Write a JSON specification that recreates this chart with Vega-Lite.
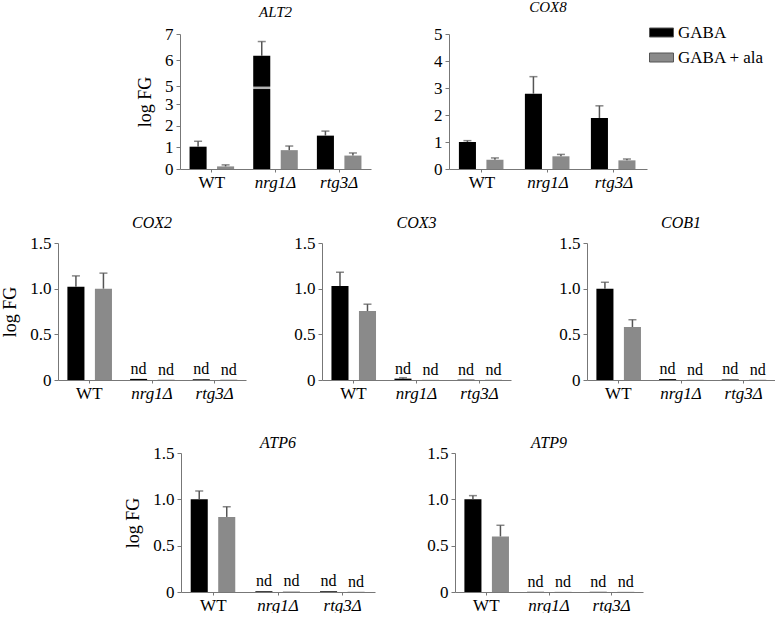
{
  "$schema": "https://vega.github.io/schema/vega-lite/v6.json",
  "padding": {"left": 1, "top": 0, "right": 0, "bottom": 0},
  "datasets": {
    "d": [
      {"gene": "ALT2", "strain": "WT", "condition": "GABA", "value": 1.03, "err": 1.28, "label": ""},
      {"gene": "ALT2", "strain": "WT", "condition": "GABA + ala", "value": 0.12, "err": 0.19, "label": ""},
      {"gene": "ALT2", "strain": "nrg1Δ", "condition": "GABA", "value": 6.16, "err": 6.71, "label": ""},
      {"gene": "ALT2", "strain": "nrg1Δ", "condition": "GABA + ala", "value": 0.87, "err": 1.06, "label": ""},
      {"gene": "ALT2", "strain": "rtg3Δ", "condition": "GABA", "value": 1.54, "err": 1.75, "label": ""},
      {"gene": "ALT2", "strain": "rtg3Δ", "condition": "GABA + ala", "value": 0.62, "err": 0.74, "label": ""},
      {"gene": "COX8", "strain": "WT", "condition": "GABA", "value": 1.0, "err": 1.05, "label": ""},
      {"gene": "COX8", "strain": "WT", "condition": "GABA + ala", "value": 0.34, "err": 0.41, "label": ""},
      {"gene": "COX8", "strain": "nrg1Δ", "condition": "GABA", "value": 2.79, "err": 3.42, "label": ""},
      {"gene": "COX8", "strain": "nrg1Δ", "condition": "GABA + ala", "value": 0.47, "err": 0.54, "label": ""},
      {"gene": "COX8", "strain": "rtg3Δ", "condition": "GABA", "value": 1.89, "err": 2.34, "label": ""},
      {"gene": "COX8", "strain": "rtg3Δ", "condition": "GABA + ala", "value": 0.32, "err": 0.37, "label": ""},
      {"gene": "COX2", "strain": "WT", "condition": "GABA", "value": 1.02, "err": 1.14, "label": ""},
      {"gene": "COX2", "strain": "WT", "condition": "GABA + ala", "value": 1.0, "err": 1.17, "label": ""},
      {"gene": "COX2", "strain": "nrg1Δ", "condition": "GABA", "value": 0.012, "err": null, "label": "nd"},
      {"gene": "COX2", "strain": "nrg1Δ", "condition": "GABA + ala", "value": 0.004, "err": null, "label": "nd"},
      {"gene": "COX2", "strain": "rtg3Δ", "condition": "GABA", "value": 0.008, "err": null, "label": "nd"},
      {"gene": "COX2", "strain": "rtg3Δ", "condition": "GABA + ala", "value": 0.004, "err": null, "label": "nd"},
      {"gene": "COX3", "strain": "WT", "condition": "GABA", "value": 1.03, "err": 1.18, "label": ""},
      {"gene": "COX3", "strain": "WT", "condition": "GABA + ala", "value": 0.755, "err": 0.83, "label": ""},
      {"gene": "COX3", "strain": "nrg1Δ", "condition": "GABA", "value": 0.015, "err": 0.025, "label": "nd"},
      {"gene": "COX3", "strain": "nrg1Δ", "condition": "GABA + ala", "value": 0.002, "err": null, "label": "nd"},
      {"gene": "COX3", "strain": "rtg3Δ", "condition": "GABA", "value": 0.004, "err": null, "label": "nd"},
      {"gene": "COX3", "strain": "rtg3Δ", "condition": "GABA + ala", "value": 0.003, "err": null, "label": "nd"},
      {"gene": "COB1", "strain": "WT", "condition": "GABA", "value": 1.0, "err": 1.07, "label": ""},
      {"gene": "COB1", "strain": "WT", "condition": "GABA + ala", "value": 0.58, "err": 0.66, "label": ""},
      {"gene": "COB1", "strain": "nrg1Δ", "condition": "GABA", "value": 0.01, "err": null, "label": "nd"},
      {"gene": "COB1", "strain": "nrg1Δ", "condition": "GABA + ala", "value": 0.003, "err": null, "label": "nd"},
      {"gene": "COB1", "strain": "rtg3Δ", "condition": "GABA", "value": 0.006, "err": null, "label": "nd"},
      {"gene": "COB1", "strain": "rtg3Δ", "condition": "GABA + ala", "value": 0.003, "err": null, "label": "nd"},
      {"gene": "ATP6", "strain": "WT", "condition": "GABA", "value": 1.0, "err": 1.09, "label": ""},
      {"gene": "ATP6", "strain": "WT", "condition": "GABA + ala", "value": 0.81, "err": 0.92, "label": ""},
      {"gene": "ATP6", "strain": "nrg1Δ", "condition": "GABA", "value": 0.008, "err": null, "label": "nd"},
      {"gene": "ATP6", "strain": "nrg1Δ", "condition": "GABA + ala", "value": 0.006, "err": null, "label": "nd"},
      {"gene": "ATP6", "strain": "rtg3Δ", "condition": "GABA", "value": 0.008, "err": null, "label": "nd"},
      {"gene": "ATP6", "strain": "rtg3Δ", "condition": "GABA + ala", "value": 0.003, "err": null, "label": "nd"},
      {"gene": "ATP9", "strain": "WT", "condition": "GABA", "value": 1.0, "err": 1.04, "label": ""},
      {"gene": "ATP9", "strain": "WT", "condition": "GABA + ala", "value": 0.6, "err": 0.72, "label": ""},
      {"gene": "ATP9", "strain": "nrg1Δ", "condition": "GABA", "value": 0.002, "err": null, "label": "nd"},
      {"gene": "ATP9", "strain": "nrg1Δ", "condition": "GABA + ala", "value": 0.002, "err": null, "label": "nd"},
      {"gene": "ATP9", "strain": "rtg3Δ", "condition": "GABA", "value": 0.002, "err": null, "label": "nd"},
      {"gene": "ATP9", "strain": "rtg3Δ", "condition": "GABA + ala", "value": 0.002, "err": null, "label": "nd"}
    ]
  },
  "resolve": {"scale": {"color": "independent"}, "legend": {"color": "independent"}},
  "spacing": 25,
  "vconcat": [
    {
      "spacing": 62,
      "resolve": {"scale": {"color": "independent"}, "legend": {"color": "independent"}},
      "hconcat": [
        {"width": 16, "height": 1, "data": {"values": []}, "mark": "point", "encoding": {}},
        {
          "title": {"text": "ALT2", "offset": 5, "fontSize": 15, "font": "Liberation Serif", "fontStyle": "italic", "fontWeight": "normal", "frame": "group"},
          "width": 191, "height": 135,
          "data": {"name": "d"},
          "transform": [{"filter": "datum.gene == 'ALT2'"}],
          "encoding": {
            "x": {"field": "strain", "type": "nominal", "sort": ["WT", "nrg1Δ", "rtg3Δ"], "scale": {"paddingInner": 0.3, "paddingOuter": 0.15},
                  "axis": {"title": null, "labelAngle": 0, "tickSize": 3, "labelPadding": 2, "labelFontStyle": {"condition": {"test": "datum.value == 'WT'", "value": "normal"}, "value": "italic"}}},
            "xOffset": {"field": "condition", "type": "nominal", "sort": ["GABA", "GABA + ala"], "scale": {"paddingInner": 0.38}},
            "y": {"field": "value", "type": "quantitative", "scale": {"domain": [0, 3, 5, 7], "range": [135, 70, 52, 0], "nice": false, "zero": false},
                  "axis": {"title": "log FG", "values": [0, 1, 2, 3, 5, 6, 7], "tickSize": 4, "titlePadding": 10, "labelOverlap": false, "labelPadding": 3}}
          },
          "layer": [
            {
              "mark": {"type": "bar"},
              "encoding": {
                "color": {"field": "condition", "type": "nominal", "scale": {"domain": ["GABA", "GABA + ala"], "range": ["#000000", "#8a8a8a"]}, "legend": null}
              }
            },
            {
              "transform": [{"filter": "datum.err != null"}],
              "mark": {"type": "rule", "color": "#555555", "strokeWidth": 1.5},
              "encoding": {"y2": {"field": "err"}}
            },
            {
              "transform": [{"filter": "datum.err != null"}],
              "mark": {"type": "tick", "orient": "horizontal", "size": 8, "thickness": 1.5, "color": "#555555"},
              "encoding": {"y": {"field": "err", "type": "quantitative", "scale": {"domain": [0, 3, 5, 7], "range": [135, 70, 52, 0], "nice": false, "zero": false},
                  "axis": {"title": "log FG", "values": [0, 1, 2, 3, 5, 6, 7], "tickSize": 4, "titlePadding": 10, "labelOverlap": false, "labelPadding": 3}}}
            },
            {
              "transform": [{"filter": "datum.strain == 'nrg1Δ' && datum.condition == 'GABA'"}],
              "mark": {"type": "tick", "orient": "horizontal", "size": 20, "thickness": 2.5, "color": "#ffffff"},
              "encoding": {"y": {"datum": 4.8, "type": "quantitative", "scale": {"domain": [0, 3, 5, 7], "range": [135, 70, 52, 0], "nice": false, "zero": false},
                  "axis": {"title": "log FG", "values": [0, 1, 2, 3, 5, 6, 7], "tickSize": 4, "titlePadding": 10, "labelOverlap": false, "labelPadding": 3}}}
            }
          ]
        },
        {
          "title": {"text": "COX8", "offset": 5, "fontSize": 15, "font": "Liberation Serif", "fontStyle": "italic", "fontWeight": "normal", "frame": "group"},
          "width": 198, "height": 135,
          "data": {"name": "d"},
          "transform": [{"filter": "datum.gene == 'COX8'"}],
          "encoding": {
            "x": {"field": "strain", "type": "nominal", "sort": ["WT", "nrg1Δ", "rtg3Δ"], "scale": {"paddingInner": 0.3, "paddingOuter": 0.15},
                  "axis": {"title": null, "labelAngle": 0, "tickSize": 3, "labelPadding": 2, "labelFontStyle": {"condition": {"test": "datum.value == 'WT'", "value": "normal"}, "value": "italic"}}},
            "xOffset": {"field": "condition", "type": "nominal", "sort": ["GABA", "GABA + ala"], "scale": {"paddingInner": 0.38}},
            "y": {"field": "value", "type": "quantitative", "scale": {"domain": [0, 5], "nice": false},
                  "axis": {"title": null, "values": [0, 1, 2, 3, 4, 5], "tickSize": 4, "labelOverlap": false, "labelPadding": 3}}
          },
          "layer": [
            {
              "mark": {"type": "bar"},
              "encoding": {
                "color": {"field": "condition", "type": "nominal", "scale": {"domain": ["GABA", "GABA + ala"], "range": ["#000000", "#8a8a8a"]},
                          "legend": {"title": null, "orient": "none", "legendX": 200, "legendY": -14, "symbolType": "M-1,-0.375H1V0.375H-1Z", "symbolSize": 576, "symbolStrokeColor": "#555555", "symbolStrokeWidth": 1, "labelFont": "Liberation Serif", "labelFontSize": 17, "labelColor": "#000000", "labelOffset": 4, "rowPadding": 4}}
              }
            },
            {
              "transform": [{"filter": "datum.err != null"}],
              "mark": {"type": "rule", "color": "#555555", "strokeWidth": 1.5},
              "encoding": {"y2": {"field": "err"}}
            },
            {
              "transform": [{"filter": "datum.err != null"}],
              "mark": {"type": "tick", "orient": "horizontal", "size": 8, "thickness": 1.5, "color": "#555555"},
              "encoding": {"y": {"field": "err", "type": "quantitative", "scale": {"domain": [0, 5], "nice": false},
                  "axis": {"title": null, "values": [0, 1, 2, 3, 4, 5], "tickSize": 4, "labelOverlap": false, "labelPadding": 3}}}
            }
          ]
        }
      ]
    },
    {
      "spacing": 34,
      "resolve": {"scale": {"color": "independent"}, "legend": {"color": "independent"}},
      "vconcat": [
        {
          "spacing": 47,
          "resolve": {"scale": {"color": "independent"}, "legend": {"color": "independent"}},
          "hconcat": [
            {
              "title": {"text": "COX2", "offset": 3, "fontSize": 16, "font": "Liberation Serif", "fontStyle": "italic", "fontWeight": "normal", "frame": "group"},
              "width": 188, "height": 137,
              "data": {"name": "d"},
              "transform": [{"filter": "datum.gene == 'COX2'"}],
              "encoding": {
                "x": {"field": "strain", "type": "nominal", "sort": ["WT", "nrg1Δ", "rtg3Δ"], "scale": {"paddingInner": 0.3, "paddingOuter": 0.15},
                      "axis": {"title": null, "labelAngle": 0, "tickSize": 3, "labelPadding": 2, "labelFontStyle": {"condition": {"test": "datum.value == 'WT'", "value": "normal"}, "value": "italic"}}},
                "xOffset": {"field": "condition", "type": "nominal", "sort": ["GABA", "GABA + ala"], "scale": {"paddingInner": 0.38}},
                "y": {"field": "value", "type": "quantitative", "scale": {"domain": [0, 1.5], "nice": false},
                      "axis": {"title": "log FG", "values": [0, 0.5, 1, 1.5], "labelExpr": "datum.value == 0 ? '0' : format(datum.value, '.1f')", "tickSize": 4, "titlePadding": 10, "labelOverlap": false, "labelPadding": 3}}
              },
              "layer": [
                {
                  "mark": {"type": "bar"},
                  "encoding": {
                    "color": {"field": "condition", "type": "nominal", "scale": {"domain": ["GABA", "GABA + ala"], "range": ["#000000", "#8a8a8a"]}, "legend": null}
                  }
                },
                {
                  "transform": [{"filter": "datum.err != null"}],
                  "mark": {"type": "rule", "color": "#555555", "strokeWidth": 1.5},
                  "encoding": {"y2": {"field": "err"}}
                },
                {
                  "transform": [{"filter": "datum.err != null"}],
                  "mark": {"type": "tick", "orient": "horizontal", "size": 8, "thickness": 1.5, "color": "#555555"},
                  "encoding": {"y": {"field": "err", "type": "quantitative", "scale": {"domain": [0, 1.5], "nice": false},
                      "axis": {"title": "log FG", "values": [0, 0.5, 1, 1.5], "labelExpr": "datum.value == 0 ? '0' : format(datum.value, '.1f')", "tickSize": 4, "titlePadding": 10, "labelOverlap": false, "labelPadding": 3}}}
                },
                {
                  "transform": [{"filter": "datum.label == 'nd'"}],
                  "mark": {"type": "text", "dy": -5, "baseline": "alphabetic", "fontSize": 16, "font": "Liberation Serif", "color": "#000000"},
                  "encoding": {"text": {"field": "label"}}
                }
              ]
            },
            {
              "title": {"text": "COX3", "offset": 3, "fontSize": 16, "font": "Liberation Serif", "fontStyle": "italic", "fontWeight": "normal", "frame": "group"},
              "width": 189, "height": 137,
              "data": {"name": "d"},
              "transform": [{"filter": "datum.gene == 'COX3'"}],
              "encoding": {
                "x": {"field": "strain", "type": "nominal", "sort": ["WT", "nrg1Δ", "rtg3Δ"], "scale": {"paddingInner": 0.3, "paddingOuter": 0.15},
                      "axis": {"title": null, "labelAngle": 0, "tickSize": 3, "labelPadding": 2, "labelFontStyle": {"condition": {"test": "datum.value == 'WT'", "value": "normal"}, "value": "italic"}}},
                "xOffset": {"field": "condition", "type": "nominal", "sort": ["GABA", "GABA + ala"], "scale": {"paddingInner": 0.38}},
                "y": {"field": "value", "type": "quantitative", "scale": {"domain": [0, 1.5], "nice": false},
                      "axis": {"title": null, "values": [0, 0.5, 1, 1.5], "labelExpr": "datum.value == 0 ? '0' : format(datum.value, '.1f')", "tickSize": 4, "labelOverlap": false, "labelPadding": 3}}
              },
              "layer": [
                {
                  "mark": {"type": "bar"},
                  "encoding": {
                    "color": {"field": "condition", "type": "nominal", "scale": {"domain": ["GABA", "GABA + ala"], "range": ["#000000", "#8a8a8a"]}, "legend": null}
                  }
                },
                {
                  "transform": [{"filter": "datum.err != null"}],
                  "mark": {"type": "rule", "color": "#555555", "strokeWidth": 1.5},
                  "encoding": {"y2": {"field": "err"}}
                },
                {
                  "transform": [{"filter": "datum.err != null"}],
                  "mark": {"type": "tick", "orient": "horizontal", "size": 8, "thickness": 1.5, "color": "#555555"},
                  "encoding": {"y": {"field": "err", "type": "quantitative", "scale": {"domain": [0, 1.5], "nice": false},
                      "axis": {"title": null, "values": [0, 0.5, 1, 1.5], "labelExpr": "datum.value == 0 ? '0' : format(datum.value, '.1f')", "tickSize": 4, "labelOverlap": false, "labelPadding": 3}}}
                },
                {
                  "transform": [{"filter": "datum.label == 'nd'"}],
                  "mark": {"type": "text", "dy": -5, "baseline": "alphabetic", "fontSize": 16, "font": "Liberation Serif", "color": "#000000"},
                  "encoding": {"text": {"field": "label"}}
                }
              ]
            },
            {
              "title": {"text": "COB1", "offset": 3, "fontSize": 16, "font": "Liberation Serif", "fontStyle": "italic", "fontWeight": "normal", "frame": "group"},
              "width": 188, "height": 137,
              "data": {"name": "d"},
              "transform": [{"filter": "datum.gene == 'COB1'"}],
              "encoding": {
                "x": {"field": "strain", "type": "nominal", "sort": ["WT", "nrg1Δ", "rtg3Δ"], "scale": {"paddingInner": 0.3, "paddingOuter": 0.15},
                      "axis": {"title": null, "labelAngle": 0, "tickSize": 3, "labelPadding": 2, "labelFontStyle": {"condition": {"test": "datum.value == 'WT'", "value": "normal"}, "value": "italic"}}},
                "xOffset": {"field": "condition", "type": "nominal", "sort": ["GABA", "GABA + ala"], "scale": {"paddingInner": 0.38}},
                "y": {"field": "value", "type": "quantitative", "scale": {"domain": [0, 1.5], "nice": false},
                      "axis": {"title": null, "values": [0, 0.5, 1, 1.5], "labelExpr": "datum.value == 0 ? '0' : format(datum.value, '.1f')", "tickSize": 4, "labelOverlap": false, "labelPadding": 3}}
              },
              "layer": [
                {
                  "mark": {"type": "bar"},
                  "encoding": {
                    "color": {"field": "condition", "type": "nominal", "scale": {"domain": ["GABA", "GABA + ala"], "range": ["#000000", "#8a8a8a"]}, "legend": null}
                  }
                },
                {
                  "transform": [{"filter": "datum.err != null"}],
                  "mark": {"type": "rule", "color": "#555555", "strokeWidth": 1.5},
                  "encoding": {"y2": {"field": "err"}}
                },
                {
                  "transform": [{"filter": "datum.err != null"}],
                  "mark": {"type": "tick", "orient": "horizontal", "size": 8, "thickness": 1.5, "color": "#555555"},
                  "encoding": {"y": {"field": "err", "type": "quantitative", "scale": {"domain": [0, 1.5], "nice": false},
                      "axis": {"title": null, "values": [0, 0.5, 1, 1.5], "labelExpr": "datum.value == 0 ? '0' : format(datum.value, '.1f')", "tickSize": 4, "labelOverlap": false, "labelPadding": 3}}}
                },
                {
                  "transform": [{"filter": "datum.label == 'nd'"}],
                  "mark": {"type": "text", "dy": -5, "baseline": "alphabetic", "fontSize": 16, "font": "Liberation Serif", "color": "#000000"},
                  "encoding": {"text": {"field": "label"}}
                }
              ]
            }
          ]
        },
        {
          "spacing": 51,
          "resolve": {"scale": {"color": "independent"}, "legend": {"color": "independent"}},
          "hconcat": [
            {"width": 15, "height": 1, "data": {"values": []}, "mark": "point", "encoding": {}},
            {
              "title": {"text": "ATP6", "offset": -7, "fontSize": 16, "font": "Liberation Serif", "fontStyle": "italic", "fontWeight": "normal", "frame": "group"},
              "width": 194, "height": 139,
              "data": {"name": "d"},
              "transform": [{"filter": "datum.gene == 'ATP6'"}],
              "encoding": {
                "x": {"field": "strain", "type": "nominal", "sort": ["WT", "nrg1Δ", "rtg3Δ"], "scale": {"paddingInner": 0.3, "paddingOuter": 0.15},
                      "axis": {"title": null, "labelAngle": 0, "tickSize": 3, "labelPadding": 2, "labelFontStyle": {"condition": {"test": "datum.value == 'WT'", "value": "normal"}, "value": "italic"}}},
                "xOffset": {"field": "condition", "type": "nominal", "sort": ["GABA", "GABA + ala"], "scale": {"paddingInner": 0.38}},
                "y": {"field": "value", "type": "quantitative", "scale": {"domain": [0, 1.5], "nice": false},
                      "axis": {"title": "log FG", "values": [0, 0.5, 1, 1.5], "labelExpr": "datum.value == 0 ? '0' : format(datum.value, '.1f')", "tickSize": 4, "titlePadding": 10, "labelOverlap": false, "labelPadding": 3}}
              },
              "layer": [
                {
                  "mark": {"type": "bar"},
                  "encoding": {
                    "color": {"field": "condition", "type": "nominal", "scale": {"domain": ["GABA", "GABA + ala"], "range": ["#000000", "#8a8a8a"]}, "legend": null}
                  }
                },
                {
                  "transform": [{"filter": "datum.err != null"}],
                  "mark": {"type": "rule", "color": "#555555", "strokeWidth": 1.5},
                  "encoding": {"y2": {"field": "err"}}
                },
                {
                  "transform": [{"filter": "datum.err != null"}],
                  "mark": {"type": "tick", "orient": "horizontal", "size": 8, "thickness": 1.5, "color": "#555555"},
                  "encoding": {"y": {"field": "err", "type": "quantitative", "scale": {"domain": [0, 1.5], "nice": false},
                      "axis": {"title": "log FG", "values": [0, 0.5, 1, 1.5], "labelExpr": "datum.value == 0 ? '0' : format(datum.value, '.1f')", "tickSize": 4, "titlePadding": 10, "labelOverlap": false, "labelPadding": 3}}}
                },
                {
                  "transform": [{"filter": "datum.label == 'nd'"}],
                  "mark": {"type": "text", "dy": -5, "baseline": "alphabetic", "fontSize": 16, "font": "Liberation Serif", "color": "#000000"},
                  "encoding": {"text": {"field": "label"}}
                }
              ]
            },
            {
              "title": {"text": "ATP9", "offset": -7, "fontSize": 16, "font": "Liberation Serif", "fontStyle": "italic", "fontWeight": "normal", "frame": "group"},
              "width": 188, "height": 139,
              "data": {"name": "d"},
              "transform": [{"filter": "datum.gene == 'ATP9'"}],
              "encoding": {
                "x": {"field": "strain", "type": "nominal", "sort": ["WT", "nrg1Δ", "rtg3Δ"], "scale": {"paddingInner": 0.3, "paddingOuter": 0.15},
                      "axis": {"title": null, "labelAngle": 0, "tickSize": 3, "labelPadding": 2, "labelFontStyle": {"condition": {"test": "datum.value == 'WT'", "value": "normal"}, "value": "italic"}}},
                "xOffset": {"field": "condition", "type": "nominal", "sort": ["GABA", "GABA + ala"], "scale": {"paddingInner": 0.38}},
                "y": {"field": "value", "type": "quantitative", "scale": {"domain": [0, 1.5], "nice": false},
                      "axis": {"title": null, "values": [0, 0.5, 1, 1.5], "labelExpr": "datum.value == 0 ? '0' : format(datum.value, '.1f')", "tickSize": 4, "labelOverlap": false, "labelPadding": 3}}
              },
              "layer": [
                {
                  "mark": {"type": "bar"},
                  "encoding": {
                    "color": {"field": "condition", "type": "nominal", "scale": {"domain": ["GABA", "GABA + ala"], "range": ["#000000", "#8a8a8a"]}, "legend": null}
                  }
                },
                {
                  "transform": [{"filter": "datum.err != null"}],
                  "mark": {"type": "rule", "color": "#555555", "strokeWidth": 1.5},
                  "encoding": {"y2": {"field": "err"}}
                },
                {
                  "transform": [{"filter": "datum.err != null"}],
                  "mark": {"type": "tick", "orient": "horizontal", "size": 8, "thickness": 1.5, "color": "#555555"},
                  "encoding": {"y": {"field": "err", "type": "quantitative", "scale": {"domain": [0, 1.5], "nice": false},
                      "axis": {"title": null, "values": [0, 0.5, 1, 1.5], "labelExpr": "datum.value == 0 ? '0' : format(datum.value, '.1f')", "tickSize": 4, "labelOverlap": false, "labelPadding": 3}}}
                },
                {
                  "transform": [{"filter": "datum.label == 'nd'"}],
                  "mark": {"type": "text", "dy": -5, "baseline": "alphabetic", "fontSize": 16, "font": "Liberation Serif", "color": "#000000"},
                  "encoding": {"text": {"field": "label"}}
                }
              ]
            }
          ]
        }
      ]
    }
  ],
  "config": {
    "font": "Liberation Serif",
    "view": {"stroke": null},
    "axis": {"grid": false, "labelFont": "Liberation Serif", "labelFontSize": 17, "labelColor": "#000000", "labelOverlap": false, "titleFont": "Liberation Serif", "titleFontSize": 18, "titleFontWeight": "normal", "titleColor": "#000000", "domainColor": "#777777", "tickColor": "#777777", "labelPadding": 3},
    "title": {"font": "Liberation Serif", "fontStyle": "italic", "fontWeight": "normal", "fontSize": 16, "frame": "group", "color": "#000000"}
  }
}
